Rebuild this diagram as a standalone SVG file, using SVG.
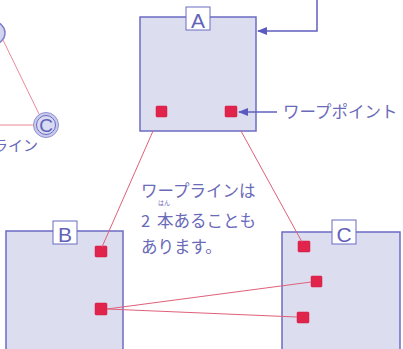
<svg xmlns="http://www.w3.org/2000/svg" width="403" height="349" viewBox="0 0 403 349">
<defs>
<style>
.box{fill:#dcdef0;stroke:#6b6bc4;stroke-width:1.5}
.lbl{fill:#ffffff;stroke:#6b6bc4;stroke-width:1}
.lt{font-family:"Liberation Sans",sans-serif;font-size:21px;fill:#6262b8;text-anchor:middle}
.wp{fill:#e0244c;stroke:#d01c44;stroke-width:0.5}
.wl{stroke:#e0607a;stroke-width:1;fill:none}
.ml{stroke:#ea8a9a;stroke-width:1;fill:none}
.arr{stroke:#6060c0;stroke-width:1.5;fill:none}
.jp{font-family:"Noto Sans CJK JP","Noto Sans",sans-serif;font-size:16.5px;fill:#6a6ab8}
</style>
<marker id="ah" markerWidth="10" markerHeight="8" refX="9" refY="4" orient="auto" markerUnits="userSpaceOnUse">
<path d="M0,0 L10,4 L0,8 Z" fill="#5a5abf"/>
</marker>
</defs>
<g id="mini-node-top">
<circle cx="-6" cy="33" r="11" fill="#d2d5ee" stroke="#8080cc" stroke-width="1.5"/>
</g>
<g id="mini-node-c">
<circle cx="46" cy="125" r="12.5" fill="#c8cbea" stroke="#9090d4" stroke-width="1"/>
<circle cx="46" cy="125" r="9.5" fill="#d8dbf2" stroke="#6a6ac4" stroke-width="1"/>
<text x="46" y="132" class="lt" style="font-size:19px">C</text>
</g>
<text class="jp" x="-7" y="151" style="font-size:15px">ライン</text>
<g id="node-A">
<rect class="box" x="140" y="17" width="116" height="114"/>
<rect class="lbl" x="186" y="7" width="24" height="23"/>
<text class="lt" x="198" y="28">A</text>
<rect class="wp" x="156" y="106" width="11" height="11" rx="1"/>
<rect class="wp" x="225" y="106" width="12" height="11" rx="1"/>
</g>
<g id="node-B">
<rect class="box" x="6" y="231" width="117" height="120"/>
<rect class="lbl" x="53" y="221" width="24" height="23"/>
<text class="lt" x="65" y="242">B</text>
<rect class="wp" x="95" y="246" width="12" height="11" rx="1"/>
<rect class="wp" x="95" y="303" width="12" height="12" rx="1"/>
</g>
<g id="node-C">
<rect class="box" x="282" y="232" width="118" height="119"/>
<rect class="lbl" x="332" y="220" width="24" height="24"/>
<text class="lt" x="344" y="242">C</text>
<rect class="wp" x="298" y="241" width="12" height="11" rx="1"/>
<rect class="wp" x="311" y="276" width="11" height="11" rx="1"/>
<rect class="wp" x="297" y="312" width="12" height="11" rx="1"/>
</g>
<g id="connectors">
<line class="ml" x1="3" y1="40" x2="39" y2="114"/>
<line class="ml" x1="0" y1="125" x2="34" y2="125"/>
<line class="wl" x1="153" y1="131" x2="102" y2="247"/>
<line class="wl" x1="241" y1="131" x2="302" y2="242"/>
<line class="wl" x1="107" y1="309" x2="311" y2="282"/>
<line class="wl" x1="107" y1="309" x2="297" y2="317"/>
<polyline class="arr" points="317,0 317,31 258,31" marker-end="url(#ah)"/>
<line class="arr" x1="277" y1="112" x2="239" y2="112" marker-end="url(#ah)"/>
</g>
<g id="labels">
<text class="jp" x="283" y="118">ワープポイント</text>
<text class="jp" x="141" y="197">ワープラインは</text>
<text class="jp" x="141" y="227">2<tspan x="157">本あることも</tspan></text>
<text class="jp" x="158" y="205" style="font-size:6px">はん</text>
<text class="jp" x="141" y="253">あります。</text>
</g>
</svg>
